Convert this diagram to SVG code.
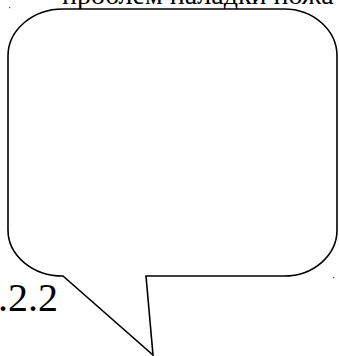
<svg xmlns="http://www.w3.org/2000/svg" width="339" height="356" viewBox="0 0 339 356">
<style>
.b{fill:#fff;stroke:#000;stroke-width:1.6;stroke-linejoin:miter}
</style>
<rect width="339" height="356" fill="#fff"/>
<g id="top-text"><text x="62" y="4" font-family="'Liberation Serif','Times New Roman','DejaVu Serif',serif" font-size="28" fill="#000">проблем наладки пожа</text></g>
<g id="bubble">
<path class="b" d="M 63 9 H 284 A 53 47 0 0 1 337 56 V 230 A 53 46 0 0 1 284 276 H 146 L 153 355 L 63 276 A 55 46 0 0 1 8 230 V 56 A 55 47 0 0 1 63 9 Z"/>
</g>
<g id="label"><text x="58" y="311" font-family="'Liberation Serif','Times New Roman','DejaVu Serif',serif" font-size="40" text-anchor="end" fill="#000">.2.2</text></g>
<rect x="9" y="7" width="1.2" height="1.2" fill="#555"/>
<rect x="333" y="277" width="1.2" height="1.2" fill="#555"/>
</svg>
